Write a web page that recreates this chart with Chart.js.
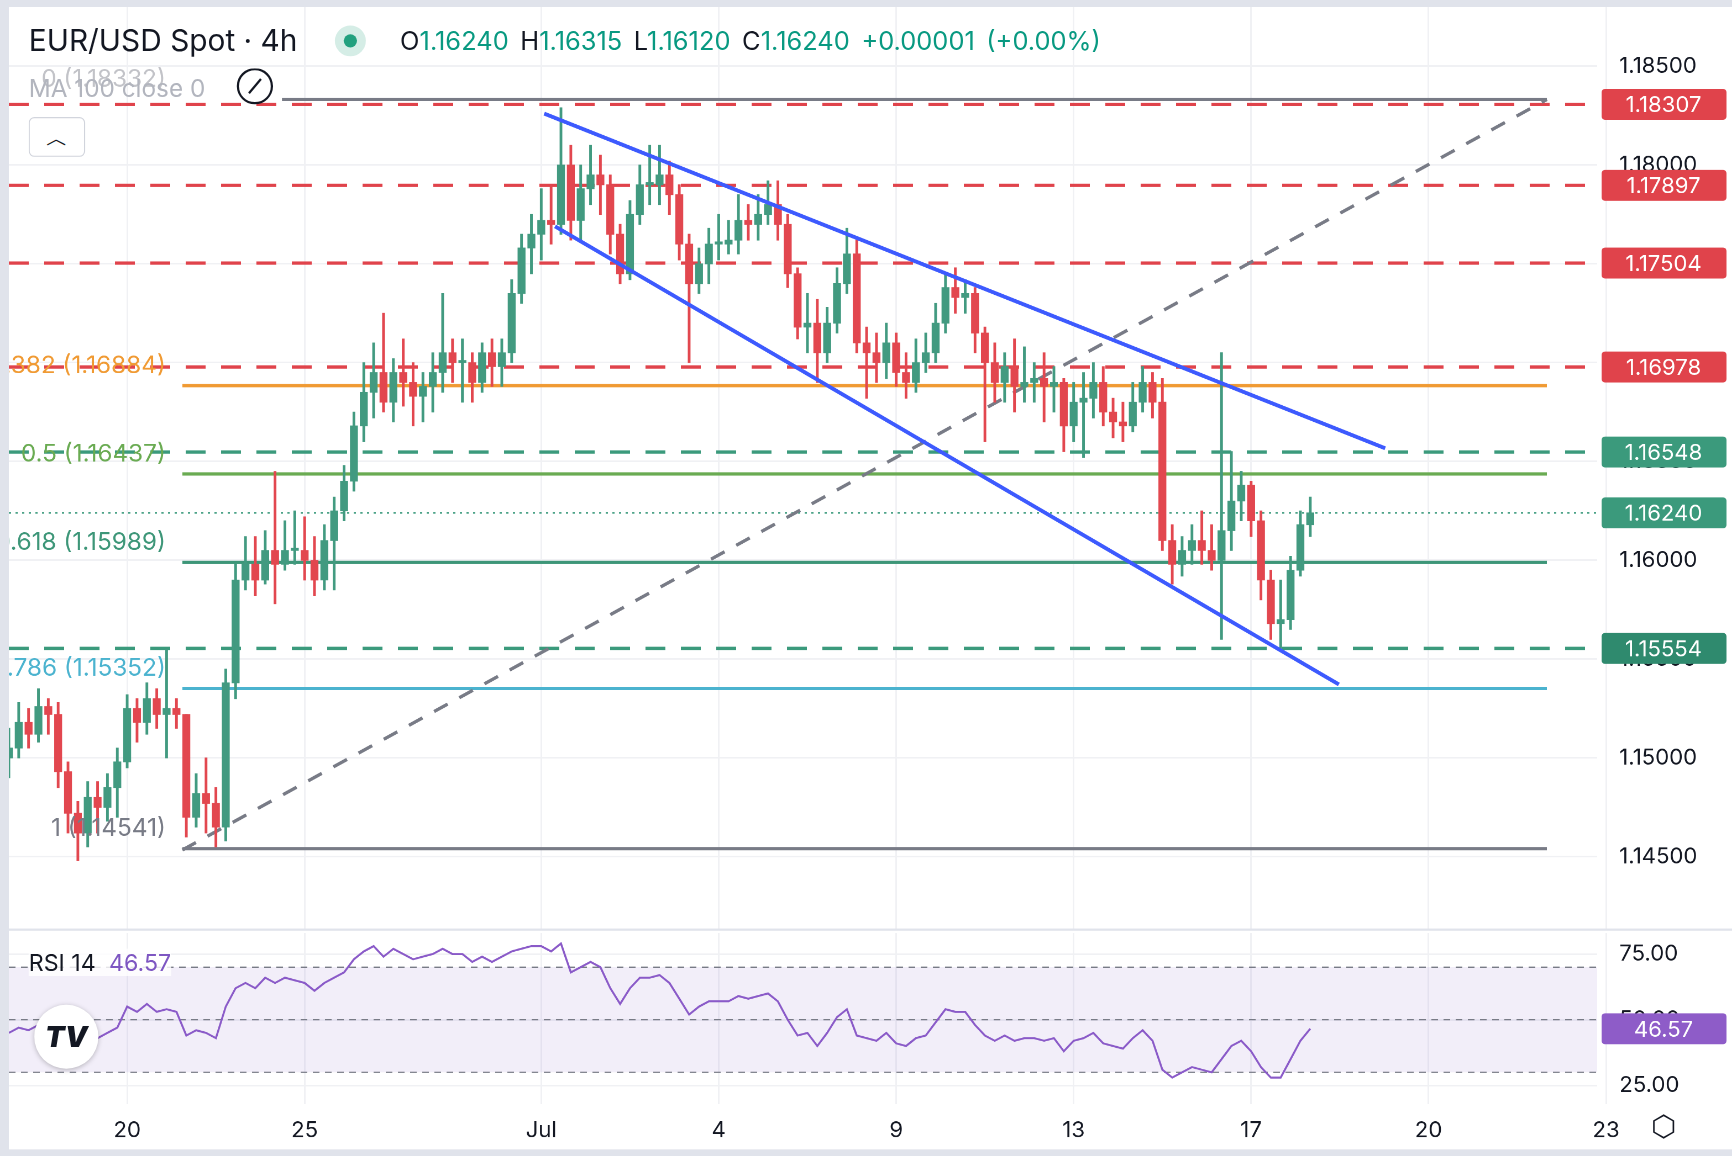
<!DOCTYPE html>
<html><head><meta charset="utf-8">
<script src="https://cdn.jsdelivr.net/npm/chart.js@4.4.1/dist/chart.umd.min.js"></script>
<style>
html,body{margin:0;padding:0;background:#fff;overflow:hidden}
#wrap{position:absolute;left:0;top:0;width:1567px;height:1047px;transform:scale(1.10530,1.10411);transform-origin:0 0;font-family:Inter,"Noto Sans",sans-serif;color:#131722}
#c1{position:absolute;left:0;top:0}
#c2{position:absolute;left:0;top:842px}
.t{position:absolute;white-space:nowrap}
</style></head><body>
<div id="wrap">
<canvas id="c1" width="1567" height="842"></canvas>
<canvas id="c2" width="1567" height="205"></canvas>
<div style="position:absolute;left:0;top:0;width:8px;height:1047px;background:#e0e3eb"></div>
<div style="position:absolute;left:0;top:0;width:1567px;height:6px;background:#e0e3eb"></div>
<div style="position:absolute;left:8px;top:841px;width:1559px;height:2px;background:#e0e3eb"></div>
<div style="position:absolute;left:0;top:1041px;width:1567px;height:6px;background:#e0e3eb"></div>
<div class="t" style="left:26px;top:20px;font-size:27px">EUR/USD Spot · 4h</div>
<div style="position:absolute;left:303px;top:23px;width:28px;height:28px;border-radius:50%;background:#d5ede6"></div>
<div style="position:absolute;left:311px;top:31px;width:12px;height:12px;border-radius:50%;background:#22a07e"></div>
<div class="t" style="left:362px;top:23px;font-size:23px;color:#089981;word-spacing:4px"><span style="color:#131722">O</span>1.16240 <span style="color:#131722">H</span>1.16315 <span style="color:#131722">L</span>1.16120 <span style="color:#131722">C</span>1.16240 +0.00001 (+0.00%)</div>
<div class="t" style="left:26px;top:67px;font-size:22px;color:#b2b5be">MA 100 close 0</div>
<div class="t" style="left:214px;top:64px;font-size:24px;color:#131722">⊘</div>
<div style="position:absolute;left:26px;top:106px;width:49px;height:34px;border:1.5px solid #d1d4dc;border-radius:5px;background:#fff;text-align:center;font-size:20px;line-height:36px">︿</div>
<div class="t" style="left:26px;top:859px;font-size:21px;background:rgba(255,255,255,0.8)">RSI 14 <span style="color:#7e57c2;margin-left:6px">46.57</span></div>
<div style="position:absolute;left:31px;top:910px;width:58px;height:58px;border-radius:50%;background:#fff;box-shadow:0 1px 5px rgba(0,0,0,0.25);text-align:center;line-height:58px;font-weight:900;font-size:26px;color:#131722;font-style:italic">TV</div>
<div class="t" style="left:1494px;top:1004px;font-size:26px;color:#131722">⬡</div>
</div>
<script>
// ---- data (4h candles, index = bar number, Jun 20 00:00 = 0) ----
const startIndex = -12;
const firstOpen = 1.1500;
const closes = [1.1505,1.1518,1.1512,1.1526,1.1522,1.1493, 1.1472,1.1462,1.1480,1.1475,1.1485,1.1498,
 1.1525,1.1518,1.1530,1.1522,1.1525,1.1522, 1.1470,1.1482,1.1477,1.1465,1.1538,1.1590,
 1.1598,1.1590,1.1605,1.1598,1.1605,1.1605, 1.1600,1.1590,1.1610,1.1625,1.1640,1.1668,
 1.1685,1.1695,1.1680,1.1695,1.1690,1.1683, 1.1688,1.1695,1.1705,1.1700,1.1700,1.1690,
 1.1705,1.1698,1.1705,1.1735,1.1758,1.1765, 1.1772,1.1770,1.1800,1.1772,1.1788,1.1795,
 1.1790,1.1765,1.1745,1.1775,1.1790,1.1790, 1.1795,1.1785,1.1760,1.1740,1.1750,1.1760,
 1.1760,1.1762,1.1772,1.1770,1.1775,1.1780, 1.1770,1.1745,1.1718,1.1720,1.1705,1.1720,
 1.1740,1.1755,1.1710,1.1705,1.1700,1.1710, 1.1695,1.1690,1.1700,1.1705,1.1720,1.1738,
 1.1733,1.1735,1.1715,1.1700,1.1690,1.1698, 1.1688,1.1690,1.1692,1.1688,1.1690,1.1668,
 1.1680,1.1682,1.1690,1.1675,1.1670,1.1668, 1.1680,1.1690,1.1680,1.1610,1.1598,1.1605,
 1.1610,1.1605,1.1600,1.1615,1.1630,1.1638, 1.1620,1.1590,1.1568,1.1570,1.1595,1.1618, 1.1624];
const highs = [1.1515,1.1528,1.1525,1.1535,1.1530,1.1528, 1.1498,1.1478,1.1488,1.1488,1.1492,1.1505,
 1.1532,1.1530,1.1538,1.1535,1.1555,1.1530, 1.1522,1.1492,1.1500,1.1485,1.1545,1.1598,
 1.1612,1.1612,1.1615,1.1645,1.1620,1.1625, 1.1622,1.1612,1.1618,1.1632,1.1648,1.1675,
 1.1700,1.1710,1.1725,1.1702,1.1712,1.1700, 1.1695,1.1705,1.1735,1.1712,1.1712,1.1705,
 1.1710,1.1712,1.1712,1.1742,1.1765,1.1775, 1.1788,1.1790,1.1829,1.1810,1.1800,1.1810,
 1.1805,1.1795,1.1770,1.1782,1.1800,1.1810, 1.1810,1.1802,1.1790,1.1765,1.1758,1.1768,
 1.1775,1.1772,1.1785,1.1780,1.1785,1.1792, 1.1792,1.1775,1.1748,1.1735,1.1732,1.1728,
 1.1748,1.1768,1.1762,1.1718,1.1715,1.1720, 1.1715,1.1705,1.1712,1.1715,1.1730,1.1745,
 1.1748,1.1742,1.1738,1.1718,1.1710,1.1705, 1.1712,1.1708,1.1700,1.1705,1.1698,1.1692,
 1.1690,1.1695,1.1700,1.1698,1.1682,1.1680, 1.1690,1.1698,1.1695,1.1692,1.1618,1.1612,
 1.1618,1.1625,1.1618,1.1705,1.1655,1.1645, 1.1640,1.1625,1.1595,1.1590,1.1602,1.1625, 1.1632];
const lows = [1.1490,1.1500,1.1505,1.1508,1.1512,1.1485, 1.1462,1.1448,1.1455,1.1462,1.1468,1.1470,
 1.1495,1.1508,1.1512,1.1515,1.1500,1.1515, 1.1460,1.1465,1.1462,1.1455,1.1458,1.1530,
 1.1585,1.1582,1.1588,1.1578,1.1595,1.1598, 1.1590,1.1582,1.1585,1.1585,1.1620,1.1635,
 1.1660,1.1672,1.1675,1.1670,1.1678,1.1668, 1.1670,1.1675,1.1685,1.1690,1.1680,1.1680,
 1.1685,1.1688,1.1688,1.1700,1.1730,1.1745, 1.1752,1.1760,1.1765,1.1762,1.1762,1.1780,
 1.1775,1.1755,1.1740,1.1742,1.1770,1.1780, 1.1780,1.1775,1.1752,1.1700,1.1735,1.1740,
 1.1752,1.1755,1.1755,1.1762,1.1762,1.1770, 1.1762,1.1738,1.1712,1.1705,1.1690,1.1700,
 1.1715,1.1735,1.1705,1.1682,1.1690,1.1692, 1.1688,1.1682,1.1685,1.1695,1.1700,1.1715,
 1.1725,1.1725,1.1705,1.1660,1.1680,1.1680, 1.1675,1.1680,1.1680,1.1670,1.1675,1.1655,
 1.1660,1.1652,1.1672,1.1668,1.1662,1.1660, 1.1665,1.1675,1.1672,1.1605,1.1588,1.1592,
 1.1598,1.1598,1.1595,1.1560,1.1605,1.1620, 1.1612,1.1580,1.1560,1.1555,1.1565,1.1592, 1.1612];
const rsi = [45,47,46,48,47,44, 42,40,44,43,45,47, 55,53,56,53,54,53, 44,46,45,43,55,62,
 64,62,66,64,66,65, 64,61,64,66,68,73, 76,78,74,77,75,73, 74,75,77,75,75,72,
 74,72,74,76,77,78, 78,76,79,68,70,72, 70,62,56,62,66,66, 67,64,58,52,55,57,
 57,57,59,58,59,60, 57,50,44,45,40,45, 51,54,44,43,42,45, 41,40,43,44,49,54,
 53,53,48,44,42,44, 42,43,43,42,43,38, 42,43,45,41,40,39, 43,46,42,31,28,30,
 32,31,30,35,40,42, 38,32,28,28,35,42, 46.57];
const dayTicks = [0,18,42,60,78,96,114,132,150];
const dayLabels = ['20','25','Jul','4','9','13','17','20','23'];
const priceTicks = [1.145,1.150,1.155,1.160,1.165,1.170,1.175,1.180,1.185];
const rsiTicks = [25,50,75];
const fibValues = [1.18332,1.16884,1.16437,1.15989,1.15352,1.14541];
const fibNames = ['0','0.382','0.5','0.618','0.786','1'];
const fibStart = [15.7,5.6,5.6,5.6,5.6,5.6];
const fibEnd = 144;
const redLevels = [1.18307,1.17897,1.17504,1.16978];
const greenDashed = [1.16548,1.15554];
const lastPrice = 1.16240;
const channelUpper = [[42.3,1.18260],[127.6,1.16567]];
const channelLower = [[43.4,1.17690],[122.9,1.15372]];
const fibDiagonal = [[5.6,1.14534],[144,1.18332]];
const tagValues = [1.18307,1.17897,1.17504,1.16978,1.16548,1.16240,1.15554];
const tagKinds = ['r','r','r','r','g','g','d'];
const rsiLast = 46.57;

const X_MIN = -12, X_MAX = 149.1;
const UP='#429a80', DN='#e2474f';
const candleIdx = closes.map((c,i)=>startIndex+i);
const opens = closes.map((c,i)=> i===0?firstOpen:closes[i-1]);
const cols = closes.map((c,i)=> c>=opens[i]?UP:DN);

function seg(a,b){return [{x:a[0],y:a[1]},{x:b[0],y:b[1]}];}
function hline(v,a,b,color,w,dash){return {type:'line',data:[{x:a,y:v},{x:b,y:v}],borderColor:color,borderWidth:w,borderDash:dash||[],pointRadius:0,order:5};}
const fibColors = ['#787b86','#f09a33','#6aab52','#3d9678','#4bb3cf','#787b86'];
const ds = [];
redLevels.forEach(v=>ds.push(hline(v,X_MIN,X_MAX,'#e0434b',3,[18,14])));
greenDashed.forEach(v=>ds.push(hline(v,X_MIN,X_MAX,'#3b9a7c',3,[18,14])));
ds.push(hline(lastPrice,X_MIN,X_MAX,'#3b9a7c',1.5,[2,4]));
fibValues.forEach((v,i)=>ds.push(hline(v,fibStart[i],fibEnd,fibColors[i],3)));
ds.push({type:'line',data:seg(...fibDiagonal),borderColor:'#787b86',borderWidth:3,borderDash:[14,12],pointRadius:0,order:4});
ds.push({type:'line',data:seg(...channelUpper),borderColor:'#3d5afe',borderWidth:3.5,pointRadius:0,order:1});
ds.push({type:'line',data:seg(...channelLower),borderColor:'#3d5afe',borderWidth:3.5,pointRadius:0,order:1});
ds.push({type:'bar',data:candleIdx.map((x,i)=>({x,y:[lows[i],highs[i]]})),backgroundColor:cols,barThickness:1.8,grouped:false,order:2});
ds.push({type:'bar',data:candleIdx.map((x,i)=>({x,y:[opens[i],closes[i]===opens[i]?closes[i]+0.00005:closes[i]]})),backgroundColor:cols,barThickness:6.5,minBarLength:2,grouped:false,order:2});

const font = {family:'Inter, "Noto Sans", sans-serif',size:20};
function xScale(showLabels){
  return {type:'linear',min:X_MIN,max:X_MAX,offset:false,bounds:'ticks',
    afterBuildTicks:s=>{s.ticks=dayTicks.map(v=>({value:v}));},
    afterFit:s=>{ s.height = showLabels?47:0; s.paddingLeft=0; s.paddingRight=0; s.paddingTop=0; s.paddingBottom=0; },
    grid:{color:'#f0f1f4',lineWidth:1.5,drawTicks:false,offset:false},border:{display:false},
    ticks:{display:showLabels,color:'#131722',font,padding:12,autoSkip:false,maxRotation:0,
      callback:(v)=>{const k=dayTicks.indexOf(v);return k>=0?dayLabels[k]:'';}}};
}
function yScale(min,max,ticks,dec){
  return {type:'linear',position:'right',min,max,offset:false,grace:0,
    afterBuildTicks:s=>{s.ticks=ticks.map(v=>({value:v}));},
    afterFit:s=>{s.width=122; s.paddingTop=0; s.paddingBottom=0; s.paddingLeft=0; s.paddingRight=0;},
    grid:{color:'#f0f1f4',lineWidth:1.5,drawTicks:false},border:{display:false},
    ticks:{color:'#131722',font,padding:20,callback:v=>Number(v).toFixed(dec)}};
}
function tag(ctx,y,bg,txt){
  ctx.save();ctx.fillStyle=bg;ctx.beginPath();ctx.roundRect(1449,y-14,113,28,3);ctx.fill();
  ctx.fillStyle='#fff';ctx.font='20px Inter, "Noto Sans", sans-serif';ctx.textAlign='center';ctx.textBaseline='middle';
  ctx.fillText(txt,1505,y+1);ctx.restore();
}
const mainPlugin = {id:'mainExtras',
  afterDatasetsDraw(chart){
    const {ctx,chartArea:a,scales:{y}}=chart;
    ctx.save();ctx.beginPath();ctx.rect(a.left,a.top,a.right-a.left,a.bottom-a.top);ctx.clip();
    ctx.font='22px Inter, "Noto Sans", sans-serif';ctx.textAlign='right';ctx.textBaseline='middle';
    fibValues.forEach((v,i)=>{
      ctx.fillStyle=i===0?'rgba(120,123,134,0.45)':fibColors[i];
      ctx.fillText(fibNames[i]+' ('+v.toFixed(5)+')',150,y.getPixelForValue(v)-18);
    });
    ctx.restore();
  },
  afterDraw(chart){
    const {ctx,scales:{y}}=chart;
    const bg={r:'#e0434b',g:'#3b9a7c',d:'#2f8a6e'};
    tagValues.forEach((v,i)=>tag(ctx,y.getPixelForValue(v),bg[tagKinds[i]],v.toFixed(5)));
  }};
new Chart(document.getElementById('c1'),{type:'line',data:{datasets:ds},
  options:{responsive:false,animation:false,devicePixelRatio:2,
    layout:{padding:{left:8,top:0,bottom:0,right:0}},
    plugins:{legend:{display:false},tooltip:{enabled:false}},
    scales:{x:xScale(false),y:yScale(1.14131,1.18835,priceTicks,5)}},
  plugins:[mainPlugin]});

const rsiPlugin={id:'rsiExtras',
  beforeDatasetsDraw(chart){
    const {ctx,chartArea:a,scales:{y}}=chart;
    ctx.save();
    ctx.fillStyle='rgba(126,87,194,0.1)';
    const y70=y.getPixelForValue(70),y30=y.getPixelForValue(30);
    ctx.fillRect(a.left,y70,a.right-a.left,y30-y70);
    ctx.strokeStyle='#787b86';ctx.lineWidth=1.2;ctx.setLineDash([6,5]);
    [70,50,30].forEach(v=>{const p=y.getPixelForValue(v);ctx.beginPath();ctx.moveTo(a.left,p);ctx.lineTo(a.right,p);ctx.stroke();});
    ctx.restore();
  },
  afterDraw(chart){tag(chart.ctx,chart.scales.y.getPixelForValue(rsiLast),'#8e5cc8',rsiLast.toFixed(2));}};
new Chart(document.getElementById('c2'),{type:'line',
  data:{datasets:[{data:candleIdx.map((x,i)=>({x,y:rsi[i]})),borderColor:'#8a5ac8',borderWidth:1.8,pointRadius:0,tension:0}]},
  options:{responsive:false,animation:false,devicePixelRatio:2,
    layout:{padding:{left:8,top:3,bottom:0,right:0}},
    plugins:{legend:{display:false},tooltip:{enabled:false}},
    scales:{x:xScale(true),y:yScale(17.9,83,rsiTicks,2)}},
  plugins:[rsiPlugin]});
</script>
</body></html>
